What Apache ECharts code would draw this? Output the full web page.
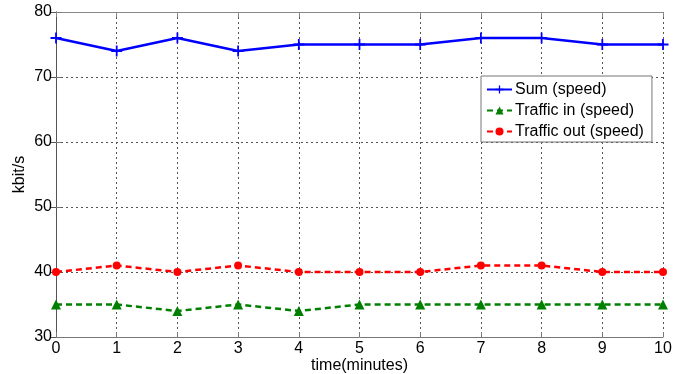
<!DOCTYPE html>
<html>
<head>
<meta charset="utf-8">
<script src="https://cdn.jsdelivr.net/npm/echarts@6/dist/echarts.min.js"></script>
<style>
html,body{margin:0;padding:0;background:#fff;}
#chart{width:686px;height:374px;}
</style>
</head>
<body>
<div id="chart"></div>
<script>
const timeMinutes = [0,1,2,3,4,5,6,7,8,9,10];
const sumSpeed = [76,74,76,74,75,75,75,76,76,75,75];
const trafficIn = [35,35,34,35,34,35,35,35,35,35,35];
const trafficOut = [40,41,40,41,40,40,40,41,41,40,40];
const seriesNames = ['Sum (speed)','Traffic in (speed)','Traffic out (speed)'];
const xLabel = 'time(minutes)';
const yLabel = 'kbit/s';

const pair = (ys) => timeMinutes.map((t,i)=>[t, ys[i]]);
const font = 'Liberation Sans, Arial, sans-serif';
const plusPath = 'path://M4.2,0H5.8V4.2H10V5.8H5.8V10H4.2V5.8H0V4.2H4.2Z';

const chart = echarts.init(document.getElementById('chart'));
chart.setOption({
  animation:false,
  backgroundColor:'#fff',
  grid:{left:56,right:23,top:12,bottom:37,containLabel:false,outerBoundsMode:'none'},
  legend:{
    orient:'vertical', left:481, top:76,
    backgroundColor:'#fff', borderColor:'#777', borderWidth:1,
    padding:[5,8,2,5], itemGap:4, itemWidth:25, itemHeight:10,
    textStyle:{fontFamily:font,fontSize:16,color:'#000',padding:[0,0,0,-2],lineHeight:17},
    data:seriesNames
  },
  xAxis:[{
    type:'value', min:0, max:10, interval:1,
    name:xLabel, nameLocation:'middle', nameGap:21, nameMoveOverlap:false,
    nameTextStyle:{fontFamily:font,fontSize:16,color:'#000'},
    axisLine:{lineStyle:{color:'#777'}},
    axisTick:{inside:true,length:5,lineStyle:{color:'#777'}},
    axisLabel:{fontFamily:font,fontSize:16,color:'#000',margin:4},
    splitLine:{show:true,lineStyle:{color:'#555',type:[2,3],width:1}}
  },{
    type:'value', min:0, max:10, interval:1, position:'top',
    axisLine:{show:true,lineStyle:{color:'#888'}},
    axisTick:{show:true,inside:true,length:5,lineStyle:{color:'#888'}},
    axisLabel:{show:false}, splitLine:{show:false}
  }],
  yAxis:[{
    type:'value', min:30, max:80, interval:10,
    name:yLabel, nameLocation:'middle', nameGap:28, nameMoveOverlap:false,
    nameTextStyle:{fontFamily:font,fontSize:16,color:'#000'},
    axisLine:{show:true,lineStyle:{color:'#777'}},
    axisTick:{show:true,inside:true,length:5,lineStyle:{color:'#777'}},
    axisLabel:{fontFamily:font,fontSize:16,color:'#000',margin:4},
    splitLine:{show:true,lineStyle:{color:'#555',type:[2,3],width:1}}
  },{
    type:'value', min:30, max:80, interval:10, position:'right',
    axisLine:{show:true,lineStyle:{color:'#555'}},
    axisTick:{show:true,inside:true,length:5,lineStyle:{color:'#555'}},
    axisLabel:{show:false}, splitLine:{show:false}
  }],
  series:[
    {name:seriesNames[0],type:'line',data:pair(sumSpeed),
     color:'#0000ff',symbol:plusPath,symbolSize:11,showAllSymbol:true,
     lineStyle:{width:2.5,color:'#0000ff'},itemStyle:{color:'#0000ff'}},
    {name:seriesNames[1],type:'line',data:pair(trafficIn),
     color:'#008000',symbol:'triangle',symbolSize:10,showAllSymbol:true,
     lineStyle:{width:2.5,type:[6,4],color:'#008000'},itemStyle:{color:'#008000'}},
    {name:seriesNames[2],type:'line',data:pair(trafficOut),
     color:'#ff0000',symbol:'circle',symbolSize:8,showAllSymbol:true,
     lineStyle:{width:2.5,type:[6,4],color:'#ff0000'},itemStyle:{color:'#ff0000'}}
  ]
});
</script>
</body>
</html>
